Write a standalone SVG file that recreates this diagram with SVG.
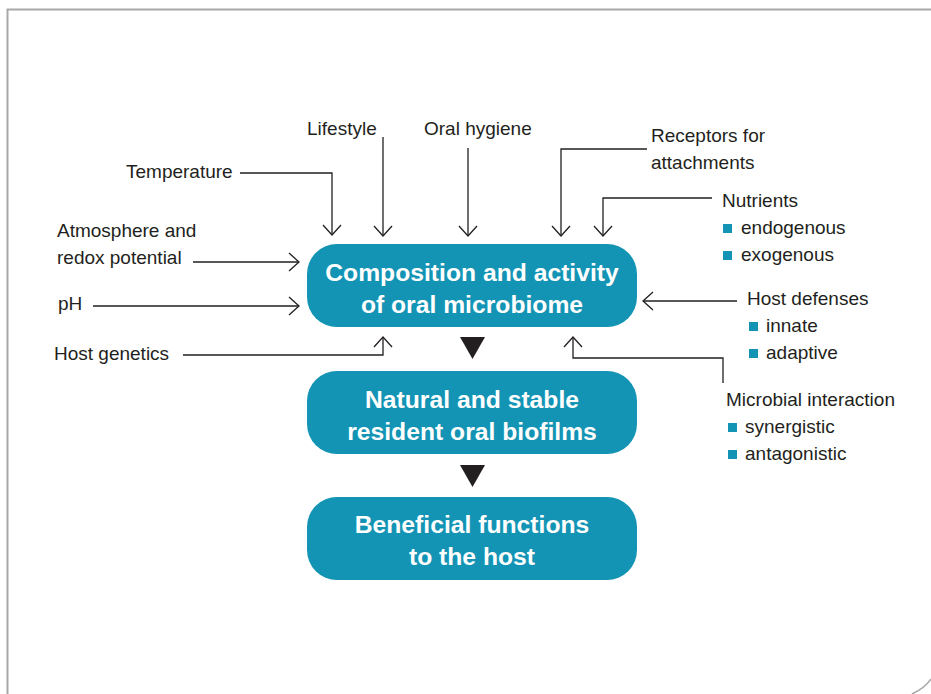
<svg xmlns="http://www.w3.org/2000/svg" width="931" height="694" viewBox="0 0 931 694">
  <defs>
    <marker id="chev" markerUnits="userSpaceOnUse" markerWidth="24" markerHeight="24" viewBox="-12 -12 24 24" refX="0" refY="0" orient="auto">
      <path d="M -10 -9 L 0 0 L -10 9" fill="none" stroke="#231f20" stroke-width="1.3"/>
    </marker>
    <style>
      .frame { fill: none; stroke: #a8a8a8; stroke-width: 2; }
      .box { fill: #1394b5; }
      .boxtxt { font-family: "Liberation Sans", Arial, sans-serif; font-weight: bold; font-size: 24.7px; fill: #ffffff; text-anchor: middle; }
      .lbl { font-family: "Liberation Sans", Arial, sans-serif; font-size: 19px; fill: #231f20; }
      .wire { fill: none; stroke: #231f20; stroke-width: 1.3; marker-end: url(#chev); }
      .bullet { fill: #1394b5; }
      .tri { fill: #231f20; }
    </style>
  </defs>

  <rect width="931" height="694" fill="#ffffff"/>

  <!-- page frame -->
  <path class="frame" d="M 7.5 694 L 7.5 9.5 L 931 9.5"/>
  <path d="M 912 694 Q 925 688 931 679" fill="none" stroke="#a8a8a8" stroke-width="1.5"/>

  <!-- central chain -->
  <g id="node-composition">
    <rect class="box" x="307" y="244" width="330" height="83" rx="30"/>
    <text class="boxtxt" x="472" y="281">Composition and activity</text>
    <text class="boxtxt" x="472" y="313">of oral microbiome</text>
  </g>
  <g id="node-biofilms">
    <rect class="box" x="307" y="371" width="330" height="83" rx="30"/>
    <text class="boxtxt" x="472" y="408">Natural and stable</text>
    <text class="boxtxt" x="472" y="440">resident oral biofilms</text>
  </g>
  <g id="node-functions">
    <rect class="box" x="307" y="497" width="330" height="83" rx="30"/>
    <text class="boxtxt" x="472" y="533">Beneficial functions</text>
    <text class="boxtxt" x="472" y="565">to the host</text>
  </g>

  <!-- factor labels -->
  <g id="node-temperature"><text class="lbl" x="126" y="178">Temperature</text></g>
  <g id="node-lifestyle"><text class="lbl" x="307" y="135">Lifestyle</text></g>
  <g id="node-hygiene"><text class="lbl" x="424" y="135">Oral hygiene</text></g>
  <g id="node-receptors">
    <text class="lbl" x="651" y="142">Receptors for</text>
    <text class="lbl" x="651" y="169">attachments</text>
  </g>
  <g id="node-nutrients">
    <text class="lbl" x="722" y="207">Nutrients</text>
    <rect class="bullet" x="723" y="224" width="9" height="9"/>
    <text class="lbl" x="741" y="234">endogenous</text>
    <rect class="bullet" x="723" y="251" width="9" height="9"/>
    <text class="lbl" x="741" y="261">exogenous</text>
  </g>
  <g id="node-atmosphere">
    <text class="lbl" x="57" y="237">Atmosphere and</text>
    <text class="lbl" x="57" y="264">redox potential</text>
  </g>
  <g id="node-ph"><text class="lbl" x="58" y="310">pH</text></g>
  <g id="node-genetics"><text class="lbl" x="54" y="360">Host genetics</text></g>
  <g id="node-defenses">
    <text class="lbl" x="747" y="305">Host defenses</text>
    <rect class="bullet" x="749" y="322" width="9" height="9"/>
    <text class="lbl" x="766" y="332">innate</text>
    <rect class="bullet" x="749" y="349" width="9" height="9"/>
    <text class="lbl" x="766" y="359">adaptive</text>
  </g>
  <g id="node-microbial">
    <text class="lbl" x="726" y="406">Microbial interaction</text>
    <rect class="bullet" x="728" y="423" width="9" height="9"/>
    <text class="lbl" x="745" y="433">synergistic</text>
    <rect class="bullet" x="728" y="450" width="9" height="9"/>
    <text class="lbl" x="745" y="460">antagonistic</text>
  </g>

  <!-- connectors -->
  <g id="connectors">
    <path class="wire" d="M 240 173 L 332 173 L 332 235"/>
    <path class="wire" d="M 383 137 L 383 236"/>
    <path class="wire" d="M 468 148 L 468 236"/>
    <path class="wire" d="M 647 149 L 561 149 L 561 236"/>
    <path class="wire" d="M 712 198 L 603 198 L 603 236"/>
    <path class="wire" d="M 193 262 L 299 262"/>
    <path class="wire" d="M 93 306 L 299 306"/>
    <path class="wire" d="M 183 355 L 383 355 L 383 337"/>
    <path class="wire" d="M 737 301 L 643 301"/>
    <path class="wire" d="M 723 383 L 723 358 L 573 358 L 573 337"/>
    <polygon class="tri" points="460,337 485,337 472.5,359"/>
    <polygon class="tri" points="460,465 485,465 472.5,487"/>
  </g>
</svg>
